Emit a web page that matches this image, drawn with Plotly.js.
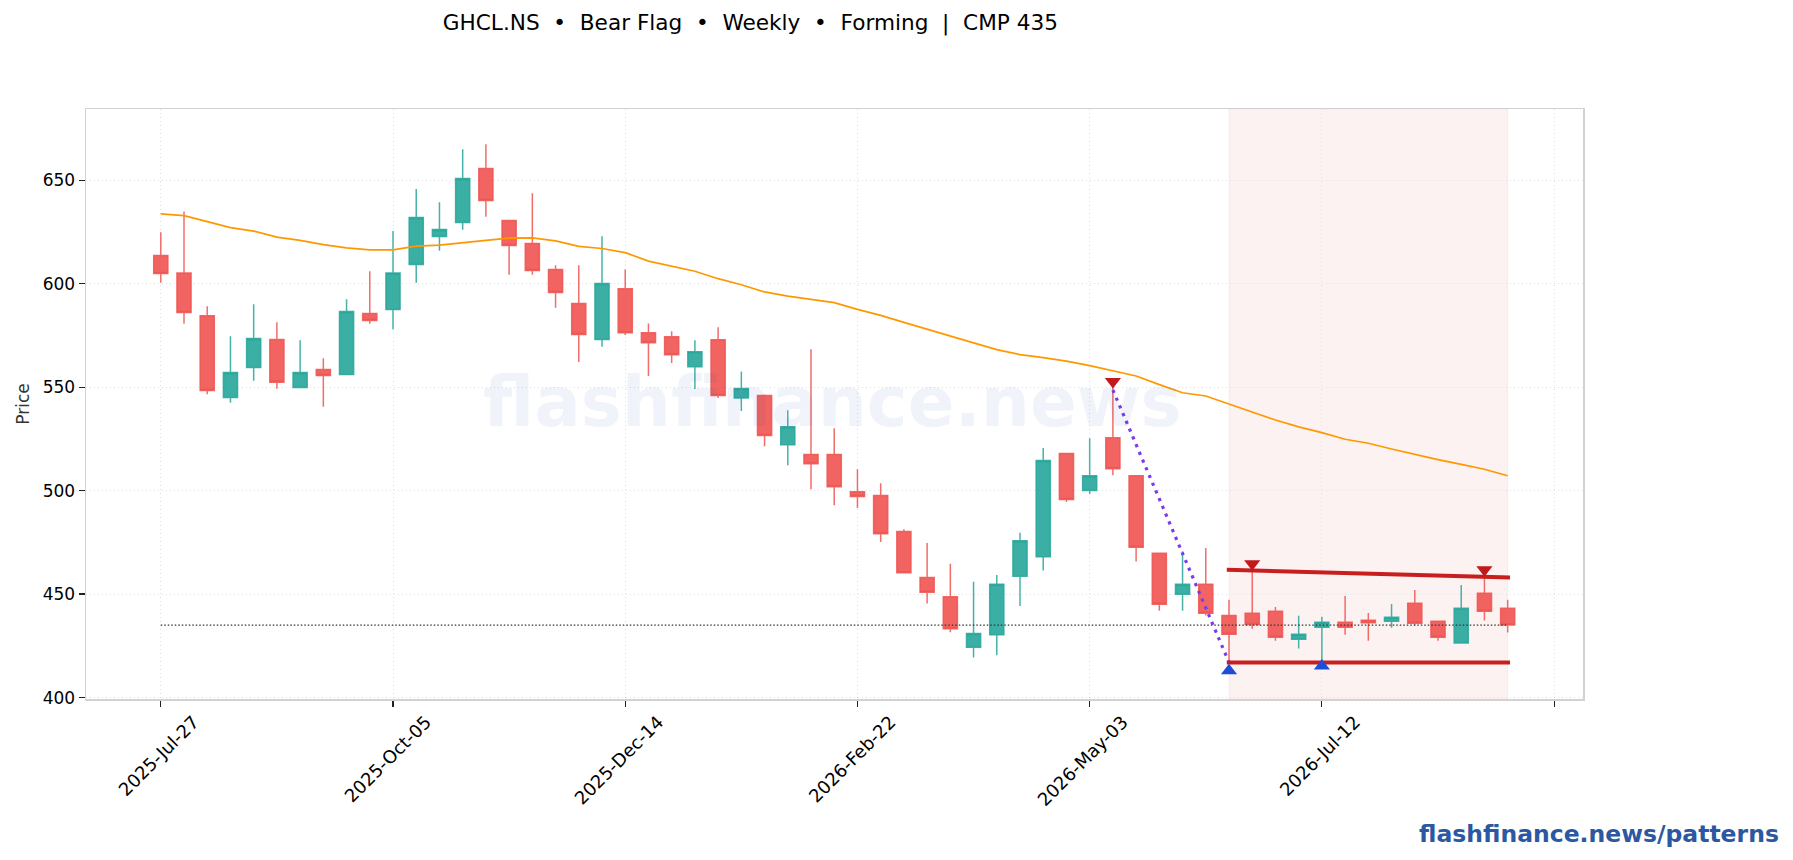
<!DOCTYPE html>
<html>
<head>
<meta charset="utf-8">
<script src="https://cdn.plot.ly/plotly-3.0.1.min.js"></script>
<style>
  html, body { margin: 0; padding: 0; background: #fff; }
  #chart { width: 1793px; height: 860px; }
</style>
</head>
<body>
<div id="chart"></div>
<script>
const dates = [
  '2025-07-27','2025-08-03','2025-08-10','2025-08-17','2025-08-24','2025-08-31','2025-09-07','2025-09-14','2025-09-21','2025-09-28',
  '2025-10-05','2025-10-12','2025-10-19','2025-10-26','2025-11-02','2025-11-09','2025-11-16','2025-11-23','2025-11-30','2025-12-07',
  '2025-12-14','2025-12-21','2025-12-28','2026-01-04','2026-01-11','2026-01-18','2026-01-25','2026-02-01','2026-02-08','2026-02-15',
  '2026-02-22','2026-03-01','2026-03-08','2026-03-15','2026-03-22','2026-03-29','2026-04-05','2026-04-12','2026-04-19','2026-04-26',
  '2026-05-03','2026-05-10','2026-05-17','2026-05-24','2026-05-31','2026-06-07','2026-06-14','2026-06-21','2026-06-28','2026-07-05',
  '2026-07-12','2026-07-19','2026-07-26','2026-08-02','2026-08-09','2026-08-16','2026-08-23','2026-08-30','2026-09-06'
];
const opens = [
  613.6,605.2,584.5,545.0,559.5,573.0,549.8,558.5,556.1,585.6,
  587.5,609.3,622.8,629.5,655.6,630.5,619.4,606.8,590.4,573.0,
  597.6,576.3,574.4,559.9,572.9,544.8,545.9,522.2,517.4,517.4,
  499.5,497.6,480.2,458.0,448.7,424.3,430.4,458.6,468.0,517.9,
  500.0,525.6,507.2,469.7,449.9,454.8,439.6,440.7,441.7,428.2,
  434.0,436.4,437.4,436.9,445.6,436.9,426.3,450.4,443.2
];
const highs = [
  624.9,634.9,589.1,574.6,590.1,581.4,572.7,564.0,592.5,606.0,
  625.4,645.7,639.4,665.0,667.4,630.5,643.7,608.9,608.9,622.9,
  606.9,580.8,577.0,572.6,578.9,557.6,546.5,538.8,568.3,530.1,
  510.3,503.5,481.3,474.7,464.7,455.9,459.2,479.6,520.6,517.9,
  525.3,551.0,507.2,470.0,470.7,472.3,447.2,463.0,443.8,439.5,
  439.0,449.1,440.9,445.2,452.0,436.9,454.4,458.5,447.2
];
const lows = [
  600.4,580.6,546.6,542.4,553.1,549.2,549.8,540.5,556.1,580.6,
  578.0,600.4,615.9,626.0,632.3,604.3,604.3,588.3,562.2,569.5,
  575.2,555.4,561.7,549.1,544.8,538.5,521.4,512.2,500.6,492.9,
  491.6,475.2,460.0,445.4,431.5,419.4,420.5,444.2,461.4,494.5,
  498.4,507.4,465.7,442.0,442.0,439.6,417.0,433.3,427.5,423.7,
  418.2,430.4,427.5,433.7,434.8,427.5,426.3,437.2,431.4
];
const closes = [
  604.9,586.1,548.4,557.1,573.5,552.3,557.1,555.6,586.6,582.2,
  605.2,632.0,626.2,650.8,640.2,618.4,606.4,595.7,575.4,600.1,
  576.3,571.5,565.7,567.1,545.9,549.3,526.6,530.9,513.0,501.9,
  497.1,479.2,460.3,450.9,433.2,431.0,454.8,475.8,514.5,495.7,
  507.2,510.6,472.6,445.1,454.8,440.7,430.6,435.3,429.1,430.6,
  436.4,434.0,436.2,438.8,435.9,429.1,443.2,441.7,435.0
];
const sma = [
  633.7,632.9,630.0,627.1,625.4,622.5,620.9,618.9,617.3,616.3,
  616.3,618.1,618.6,619.6,620.9,622.0,622.1,620.7,618.0,617.0,
  615.0,610.9,608.5,606.0,602.4,599.5,596.0,594.0,592.4,590.8,
  587.6,584.7,581.3,578.1,574.6,571.4,568.1,565.7,564.3,562.6,
  560.4,558.0,555.4,551.2,547.3,545.7,541.9,537.8,534.1,530.8,
  528.0,524.8,522.9,520.1,517.4,515.0,512.7,510.3,507.2
];

const cmp = 435;
const tickDates = ['2025-07-27','2025-10-05','2025-12-14','2026-02-22','2026-05-03','2026-07-12','2026-09-20'];
const tickLabels = ['2025-Jul-27','2025-Oct-05','2025-Dec-14','2026-Feb-22','2026-May-03','2026-Jul-12',''];

// pattern pieces
const poleX = ['2026-05-10','2026-06-14'];
const poleY = [548.6,417.0];
const upperX = ['2026-06-13 08:00','2026-09-06 17:00'];
const upperY = [461.7,458.0];
const lowerX = ['2026-06-13 08:00','2026-09-06 17:00'];
const lowerY = [416.9,416.9];
const zoneX = ['2026-06-14','2026-09-06'];
const peakX = ['2026-05-10','2026-06-21','2026-08-30'];
const peakY = [552.7,464.7,461.7];
const troughX = ['2026-06-14','2026-07-12'];
const troughY = [412.9,415.3];

const traces = [
  {
    type: 'candlestick', x: dates, open: opens, high: highs, low: lows, close: closes,
    increasing: { line: { color: 'rgba(38,166,154,0.85)', width: 1.5 }, fillcolor: 'rgba(38,166,154,0.9)' },
    decreasing: { line: { color: 'rgba(239,83,80,0.85)', width: 1.5 }, fillcolor: 'rgba(239,83,80,0.9)' },
    whiskerwidth: 0, hoverinfo: 'skip'
  },
  { type: 'scatter', mode: 'lines', x: dates, y: sma, line: { color: '#ff9800', width: 1.7 }, hoverinfo: 'skip' },
  { type: 'scatter', mode: 'lines', x: [dates[0], dates[dates.length - 1]], y: [cmp, cmp],
    line: { color: '#333333', width: 1.2, dash: '1.5px,2px' }, hoverinfo: 'skip' },
  { type: 'scatter', mode: 'lines', x: poleX, y: poleY,
    line: { color: '#7c3aed', width: 3.2, dash: '3.2px,5.2px' }, hoverinfo: 'skip' },
  { type: 'scatter', mode: 'lines', x: upperX, y: upperY, line: { color: '#c81e1e', width: 4 }, hoverinfo: 'skip' },
  { type: 'scatter', mode: 'lines', x: lowerX, y: lowerY, line: { color: '#c81e1e', width: 4 }, hoverinfo: 'skip' },
  { type: 'scatter', mode: 'markers', x: peakX, y: peakY,
    marker: { symbol: 'triangle-down', size: 14, color: '#c1191c' }, hoverinfo: 'skip' },
  { type: 'scatter', mode: 'markers', x: troughX, y: troughY,
    marker: { symbol: 'triangle-up', size: 14, color: '#1d4ed8' }, hoverinfo: 'skip' }
];

const layout = {
  width: 1793, height: 860,
  margin: { l: 86, r: 210, t: 109, b: 161 },
  paper_bgcolor: '#ffffff', plot_bgcolor: '#ffffff',
  showlegend: false,
  font: { family: 'DejaVu Sans', color: '#000000' },
  boxgap: 0.13,
  title: {
    text: 'GHCL.NS  •  Bear Flag  •  Weekly  •  Forming  |  CMP 435',
    font: { size: 21.6, color: '#000000' },
    xref: 'container', yref: 'container', x: 0.4185, xanchor: 'center', y: 0.974, yanchor: 'middle'
  },
  xaxis: {
    type: 'date',
    range: ['2025-07-04 11:00', '2026-09-28 17:00'],
    rangeslider: { visible: false },
    tickmode: 'array', tickvals: tickDates, ticktext: tickLabels,
    tickangle: -45, tickfont: { size: 18, color: '#000000' },
    ticklabelshift: 33, ticklabelstandoff: -2,
    ticks: 'outside', ticklen: 6, tickcolor: '#222222', tickwidth: 1.2,
    showgrid: true, gridcolor: '#e0e0e0', griddash: '1.2px,2.8px', gridwidth: 1,
    showline: true, linecolor: '#d2d2d2', linewidth: 1.5, mirror: true, zeroline: false
  },
  yaxis: {
    range: [399.3, 684.4],
    tickvals: [400, 450, 500, 550, 600, 650],
    tickfont: { size: 17, color: '#000000' },
    ticks: 'outside', ticklen: 6, tickcolor: '#222222', tickwidth: 1.2,
    showgrid: true, gridcolor: '#e0e0e0', griddash: '1.2px,2.8px', gridwidth: 1,
    showline: true, linecolor: '#d2d2d2', linewidth: 1.5, mirror: true, zeroline: false,
    title: { text: 'Price', font: { size: 17, color: '#333333' }, standoff: 8.6 }
  },
  shapes: [
    // flag zone
    { type: 'rect', xref: 'x', yref: 'paper', x0: zoneX[0], x1: zoneX[1], y0: 0, y1: 1, layer: 'below',
      fillcolor: 'rgba(200,30,30,0.06)', line: { color: 'rgba(200,30,30,0.06)', width: 1 } }
  ],
  annotations: [
    // watermark
    { text: 'flashfinance.news', xref: 'paper', yref: 'paper', x: 0.4985, y: 0.503, showarrow: false,
      font: { size: 69, color: 'rgba(30,80,160,0.065)', weight: 'bold' } },
    { text: 'flashfinance.news/patterns', xref: 'paper', yref: 'paper', x: 1.132, xanchor: 'right', y: -0.229, yanchor: 'middle',
      showarrow: false, font: { size: 23.5, color: '#2b58a0', weight: 'bold' } }
  ]
};

Plotly.newPlot('chart', traces, layout, { displayModeBar: false, staticPlot: true });
</script>
</body>
</html>
